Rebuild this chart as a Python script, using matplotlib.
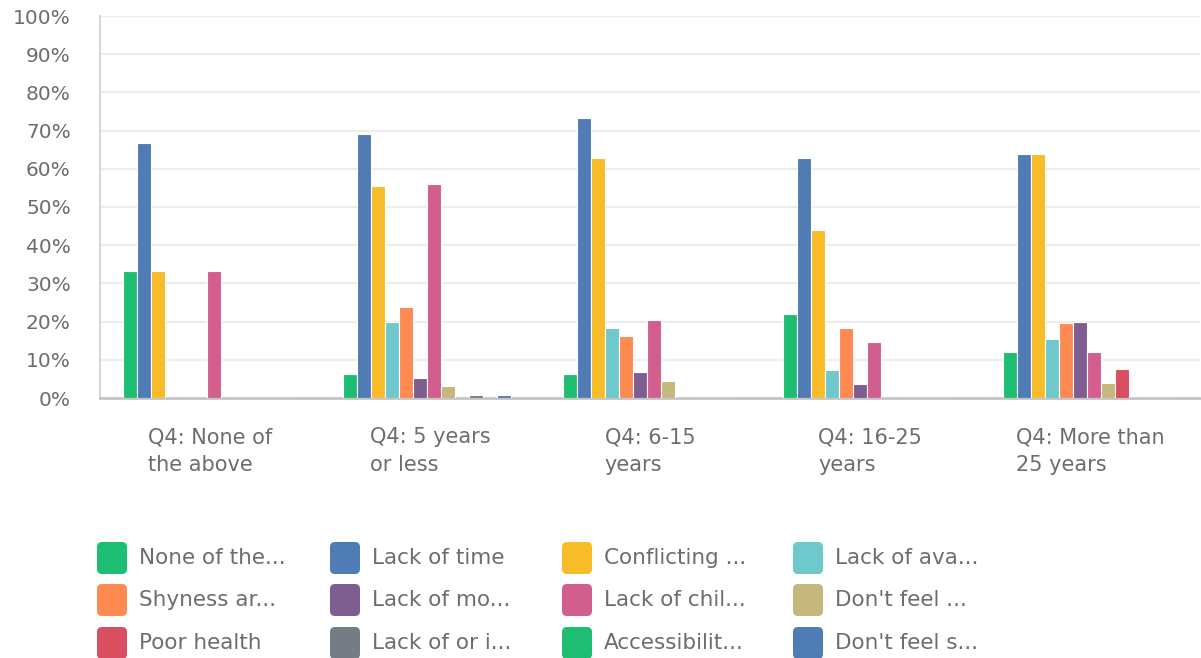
import matplotlib
matplotlib.use('Agg')
import matplotlib.pyplot as plt
import numpy as np
from matplotlib.patches import FancyBboxPatch

plt.rcParams['font.family'] = ['DejaVu Sans']

categories = ['Q4: None of\nthe above', 'Q4: 5 years\nor less', 'Q4: 6-15\nyears',
              'Q4: 16-25\nyears', 'Q4: More than\n25 years']

series_names = ['None of the...', 'Lack of time', 'Conflicting ...', 'Lack of ava...',
                'Shyness ar...', 'Lack of mo...', 'Lack of chil...', "Don't feel ...",
                'Poor health', 'Lack of or i...', 'Accessibilit...', "Don't feel s..."]

none_of_above = [33.3, 6.2, 6.2, 21.9, 12.0]
lack_of_time = [66.7, 69.1, 73.2, 62.7, 63.8]
conflicting = [33.3, 55.4, 62.7, 43.9, 63.8]
lack_of_available = [0, 19.8, 18.2, 7.2, 15.5]
shyness = [0, 23.9, 16.1, 18.2, 19.7]
lack_of_motivation = [0, 5.2, 6.7, 3.6, 19.9]
lack_of_childcare = [33.3, 55.9, 20.3, 14.6, 12.0]
dont_feel = [0, 3.1, 4.5, 0, 4.0]
poor_health = [0, 0, 0, 0, 7.7]
lack_of_info = [0, 0.9, 0, 0, 0]
accessibility = [0, 0, 0, 0, 0]
dont_feel_s = [0, 0.9, 0, 0, 0]

series_values = [none_of_above, lack_of_time, conflicting, lack_of_available,
                 shyness, lack_of_motivation, lack_of_childcare, dont_feel,
                 poor_health, lack_of_info, accessibility, dont_feel_s]

colors = ['#1DBE72', '#507CB6', '#F8BC28', '#6EC8CC', '#FE8A52', '#7E5E90',
          '#D25E8E', '#C6B77C', '#D94E60', '#757C85', '#1DBE72', '#507CB6']

TEXT = '#6B6D71'
W, H = 1201, 658

fig = plt.figure(figsize=(W / 100, H / 100), dpi=100)
ax = fig.add_axes([100 / W, 1 - 398 / H, 1100 / W, 382 / H])

x = np.arange(len(categories))
bw = 14 / 220
n = len(series_values)
for i, (vals, c) in enumerate(zip(series_values, colors)):
    offs = (i - (n - 1) / 2) * bw - 3 / 220
    ax.bar(x + offs, vals, width=bw, color=c, edgecolor='white', linewidth=0.8, zorder=3)

ax.set_xlim(-0.5, len(categories) - 0.5)
ax.set_ylim(0, 100)
ax.set_yticks(np.arange(0, 101, 10))
ax.set_yticklabels([f'{v}%' for v in range(0, 101, 10)])
ax.yaxis.grid(True, color='#EDEDED', linewidth=1.6, zorder=0)
ax.set_axisbelow(True)

for s in ['top', 'right']:
    ax.spines[s].set_visible(False)
ax.spines['left'].set_color('#D6D6D6')
ax.spines['left'].set_linewidth(1.5)
ax.spines['bottom'].set_color('#C4C4C4')
ax.spines['bottom'].set_linewidth(2)

ax.tick_params(axis='y', length=0, pad=21, labelsize=14.5, labelcolor=TEXT)
ax.tick_params(axis='x', length=0, pad=21, labelsize=15, labelcolor=TEXT)
ax.set_xticks(x)
ax.set_xticklabels(categories, multialignment='left', linespacing=1.5)

# legend laid out in pixel space below the plot
lax = fig.add_axes([0, 0, 1, 1], zorder=-1)
lax.set_xlim(0, W)
lax.set_ylim(H, 0)
lax.axis('off')
col_x = [97, 330, 562, 793]
row_y = [558, 600, 643]
for i, (name, c) in enumerate(zip(series_names, colors)):
    cx = col_x[i % 4]
    cy = row_y[i // 4]
    lax.add_patch(FancyBboxPatch((cx + 3, cy - 13), 24, 26,
                                 boxstyle='round,pad=3,rounding_size=5',
                                 facecolor=c, edgecolor='none'))
    lax.text(cx + 42, cy, name, fontsize=15.5, color=TEXT, va='center', ha='left')

fig.savefig('out.png', dpi=100)
